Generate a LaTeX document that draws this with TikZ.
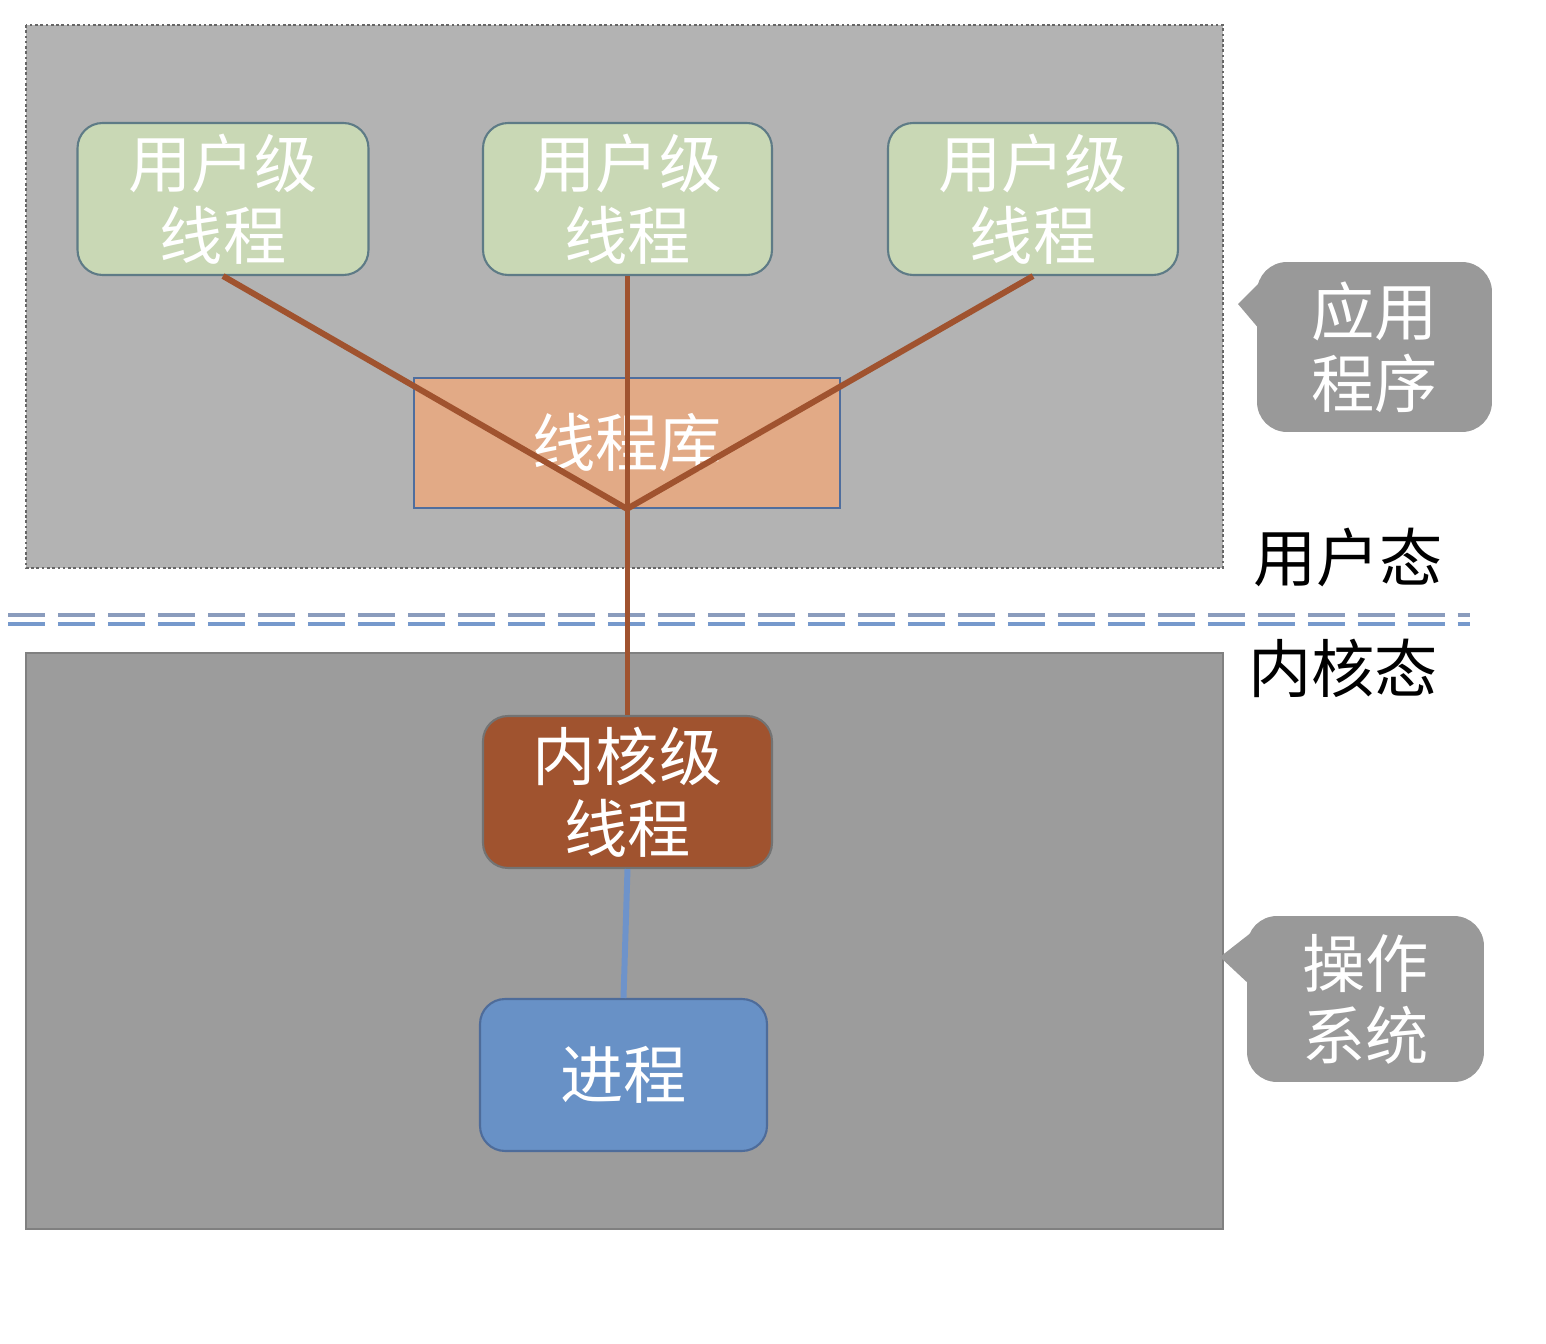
\documentclass[tikz,border=0pt]{standalone}
\usepackage{fontspec}
\newfontfamily\cjk{Noto Sans CJK SC}
\definecolor{topbg}{HTML}{B3B3B3}
\definecolor{botbg}{HTML}{9C9C9C}
\definecolor{ugreen}{HTML}{C9D8B5}
\definecolor{uborder}{HTML}{5E7B86}
\definecolor{libfill}{HTML}{E2AA86}
\definecolor{libborder}{HTML}{4F6E9E}
\definecolor{brownc}{HTML}{A0532F}
\definecolor{procfill}{HTML}{6891C6}
\definecolor{procborder}{HTML}{4E6C9A}
\definecolor{bluelink}{HTML}{6E93CA}
\definecolor{calloutc}{HTML}{999999}
\definecolor{dashA}{HTML}{8A9CBD}
\definecolor{dashB}{HTML}{7699CC}
\tikzset{
  txt/.style={font=\cjk\fontsize{36}{41}\selectfont, align=center, text=white},
  box/.style={txt, inner sep=0pt, rounded corners=0.5cm, line width=1.2pt},
  ubox/.style={box, fill=ugreen, draw=uborder, minimum width=5.82cm, minimum height=3.04cm},
  link/.style={draw=brownc, line width=3.4pt},
  dline/.style={line width=2.3pt, dash pattern=on 0.74cm off 0.26cm},
  callout/.style={txt, fill=calloutc, rounded corners=0.6cm, inner sep=0pt},
  label/.style={font=\cjk\fontsize{36}{41}\selectfont, text=black}
}
\begin{document}
\begin{tikzpicture}[x=0.02cm,y=-0.02cm]
\useasboundingbox (0,0) rectangle (1546,1344);
\fill[white] (0,0) rectangle (1546,1344);
% regions
\draw[fill=topbg, draw=black!60, line width=0.6pt, dash pattern=on 1.5pt off 1.5pt] (26,25) rectangle (1223,568);
\draw[fill=botbg, draw=black!50, line width=0.8pt] (26,653) rectangle (1223,1229);
% separator
\draw[dline, draw=dashA] (8,615) -- (1470,615);
\draw[dline, draw=dashB] (8,624) -- (1470,624);
% nodes
\node[ubox] (u1) at (223,199) {用户级\\线程};
\node[ubox, minimum width=5.78cm] (u2) at (627.5,199) {用户级\\线程};
\node[ubox, minimum width=5.8cm] (u3) at (1033,199) {用户级\\线程};
\node[txt, inner sep=0pt, fill=libfill, draw=libborder, line width=1pt, minimum width=8.52cm, minimum height=2.6cm] (lib) at (627,443) {线程库};
\coordinate (hub) at (lib.south);
\node[box, fill=brownc, draw=black!55, minimum width=5.78cm, minimum height=3.04cm] (kt) at (627.5,792) {内核级\\线程};
\node[box, fill=procfill, draw=procborder, minimum width=5.74cm, minimum height=3.04cm] (proc) at (623.5,1075) {进程};
% connectors
\draw[link] (u1.south) -- (hub);
\draw[link] (u3.south) -- (hub);
\draw[link] (u2.south) -- (kt.north);
\draw[draw=bluelink, line width=3.4pt] (kt.south) -- (proc.north);
% callouts
\node[callout, minimum width=4.7cm, minimum height=3.4cm] (c1) at (1374.5,347) {应用\\程序};
\fill[calloutc] (1262,280) -- (1238,304) -- (1260,330) -- cycle;
\node[callout, minimum width=4.74cm, minimum height=3.32cm] (c2) at (1365.5,999) {操作\\系统};
\fill[calloutc] (1252,932) -- (1220,957) -- (1250,985) -- cycle;
% state labels
\node[label] (us) at (1348,557) {用户态};
\node[label] (ks) at (1343,668) {内核态};
\end{tikzpicture}
\end{document}
